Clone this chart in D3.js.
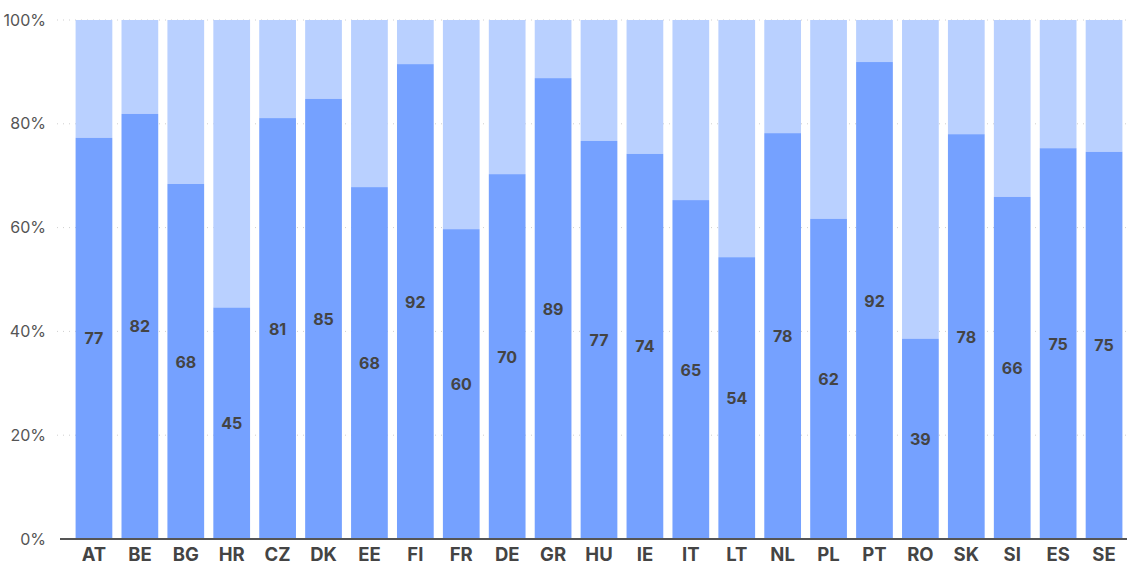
<!DOCTYPE html>
<html>
<head>
<meta charset="utf-8">
<script src="https://cdn.jsdelivr.net/npm/d3@7"></script>
<style>
  html, body { margin: 0; padding: 0; background: #fff; }
  svg { display: block; font-family: Inter, "Noto Sans", sans-serif; }
</style>
</head>
<body>
<svg id="chart" width="1127" height="565"></svg>
<script>
// Country codes along the x axis
const countries = ["AT","BE","BG","HR","CZ","DK","EE","FI","FR","DE","GR","HU","IE","IT","LT","NL","PL","PT","RO","SK","SI","ES","SE"];
// Share (%) of the lower segment for each country
const shares = [77.3, 81.9, 68.4, 44.6, 81.1, 84.8, 67.8, 91.5, 59.7, 70.3, 88.8, 76.7, 74.2, 65.3, 54.3, 78.2, 61.7, 91.9, 38.6, 78.0, 65.9, 75.3, 74.6];
// Y axis ticks
const yTicks = [0, 20, 40, 60, 80, 100];

const colorMain = "#75a1ff";
const colorRest = "#b9d0ff";

const svg = d3.select("#chart");
const width = 1127, height = 565;
const margin = { top: 20, right: 0, bottom: 26, left: 71 };

const x = d3.scaleBand()
  .domain(countries)
  .range([margin.left, width - margin.right])
  .paddingInner(0.2)
  .paddingOuter(0.1);

const y = d3.scaleLinear()
  .domain([0, 100])
  .range([height - margin.bottom, margin.top]);

const data = countries.map((c, i) => ({ country: c, value: shares[i] }));

// Dotted gridlines
svg.append("g")
  .selectAll("line")
  .data(yTicks.filter(t => t > 0))
  .join("line")
  .attr("x1", 57)
  .attr("x2", width)
  .attr("y1", d => y(d))
  .attr("y2", d => y(d))
  .attr("stroke", "#cfcfcf")
  .attr("stroke-width", 1)
  .attr("stroke-dasharray", "1,5");

// Y axis labels
const yAxis = d3.axisLeft(y).tickValues(yTicks).tickFormat(d => d + "%").tickSize(0).tickPadding(0);
const yg = svg.append("g").attr("transform", "translate(46,0)").call(yAxis);
yg.select(".domain").remove();
yg.selectAll("text")
  .attr("fill", "#555")
  .style("font-size", "16px")
  .style("font-family", "Inter, 'Noto Sans', sans-serif");

// Upper (remainder) segments
svg.append("g")
  .selectAll("rect")
  .data(data)
  .join("rect")
  .attr("x", d => x(d.country))
  .attr("width", x.bandwidth())
  .attr("y", y(100))
  .attr("height", d => y(d.value) - y(100))
  .attr("fill", colorRest);

// Lower segments
svg.append("g")
  .selectAll("rect")
  .data(data)
  .join("rect")
  .attr("x", d => x(d.country))
  .attr("width", x.bandwidth())
  .attr("y", d => y(d.value))
  .attr("height", d => y(0) - y(d.value))
  .attr("fill", colorMain);

// Value labels centred in the lower segments
svg.append("g")
  .selectAll("text")
  .data(data)
  .join("text")
  .attr("x", d => x(d.country) + x.bandwidth() / 2)
  .attr("y", d => (y(0) + y(d.value)) / 2)
  .attr("text-anchor", "middle")
  .attr("dominant-baseline", "central")
  .attr("fill", "#444")
  .style("font-size", "16px")
  .style("font-weight", "700")
  .text(d => Math.round(d.value));

// X axis baseline and labels
const xAxis = d3.axisBottom(x).tickSize(0).tickPadding(9);
const xg = svg.append("g").attr("transform", `translate(0,${y(0)})`).call(xAxis);
xg.select(".domain").remove();
xg.selectAll("text")
  .attr("fill", "#444")
  .style("font-size", "18.5px")
  .style("font-weight", "700")
  .style("font-family", "Inter, 'Noto Sans', sans-serif");

svg.append("line")
  .attr("x1", 60)
  .attr("x2", width)
  .attr("y1", y(0))
  .attr("y2", y(0))
  .attr("stroke", "#555")
  .attr("stroke-width", 2);
</script>
</body>
</html>
